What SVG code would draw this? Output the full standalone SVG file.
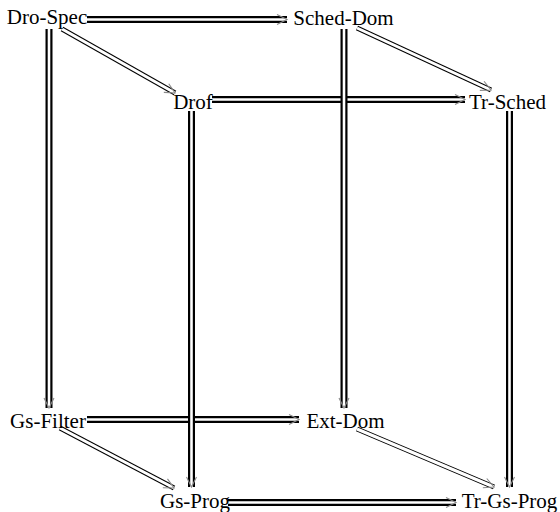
<svg xmlns="http://www.w3.org/2000/svg" width="560" height="512" viewBox="0 0 560 512">
<style>
.lbl{font-family:"Liberation Serif","Times New Roman",serif;font-size:21px;fill:#000;text-anchor:middle}
.ob{fill:none;stroke:#000;stroke-width:7}
.ib{fill:none;stroke:#fff;stroke-width:2.6}
.od{fill:none;stroke:#000;stroke-width:5}
.id{fill:none;stroke:#fff;stroke-width:3}
</style>
<defs>
<marker id="ah" markerUnits="userSpaceOnUse" markerWidth="14" markerHeight="14" refX="12" refY="7" orient="auto">
<path d="M2,2 L12,7 L2,12" fill="none" stroke="#8a8a8a" stroke-width="1.1"/>
</marker>
</defs>
<rect width="560" height="512" fill="#fff"/>
<g id="connectors">
<path class="ob" d="M87,19.5 H287"/><path class="ib" d="M87,19.5 H287" marker-end="url(#ah)"/>
<path class="ob" d="M212,99.5 H465"/><path class="ib" d="M212,99.5 H465" marker-end="url(#ah)"/>
<path class="ob" d="M87,419.5 H299"/><path class="ib" d="M87,419.5 H299" marker-end="url(#ah)"/>
<path class="ob" d="M228,502.5 H456"/><path class="ib" d="M228,502.5 H456" marker-end="url(#ah)"/>
<path class="ob" d="M49,29 V408"/><path class="ib" d="M49,29 V408" marker-end="url(#ah)"/>
<path class="ob" d="M344,29 V408"/><path class="ib" d="M344,29 V408" marker-end="url(#ah)"/>
<path class="ob" d="M191.5,111 V487"/><path class="ib" d="M191.5,111 V487" marker-end="url(#ah)"/>
<path class="ob" d="M509.5,111 V487"/><path class="ib" d="M509.5,111 V487" marker-end="url(#ah)"/>
<path class="od" d="M62,29 L175,93"/><path class="id" d="M62,29 L175,93" marker-end="url(#ah)"/>
<path class="od" d="M357,28 L491,90"/><path class="id" d="M357,28 L491,90" marker-end="url(#ah)"/>
<path class="od" d="M60,428 L174,488"/><path class="id" d="M60,428 L174,488" marker-end="url(#ah)"/>
<path class="od" d="M357,429 L494,487"/><path class="id" d="M357,429 L494,487" marker-end="url(#ah)"/>
</g>
<g id="dro-spec"><text class="lbl" x="47" y="24">Dro-Spec</text></g>
<g id="sched-dom"><text class="lbl" x="343.5" y="25">Sched-Dom</text></g>
<g id="drof"><text class="lbl" x="193" y="109">Drof</text></g>
<g id="tr-sched"><text class="lbl" x="507.5" y="109">Tr-Sched</text></g>
<g id="gs-filter"><text class="lbl" x="48" y="428">Gs-Filter</text></g>
<g id="ext-dom"><text class="lbl" x="345.5" y="428">Ext-Dom</text></g>
<g id="gs-prog"><text class="lbl" x="195" y="508">Gs-Prog</text></g>
<g id="tr-gs-prog"><text class="lbl" x="509.5" y="508">Tr-Gs-Prog</text></g>
</svg>
